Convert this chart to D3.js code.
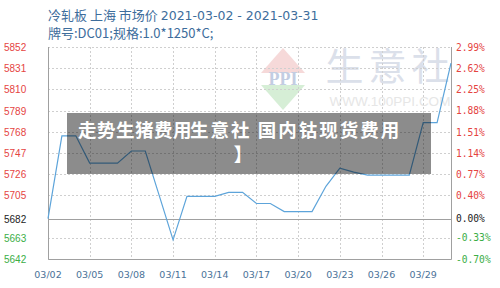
<!DOCTYPE html>
<html><head><meta charset="utf-8">
<script src="https://cdn.jsdelivr.net/npm/d3@7"></script>
<style>body{margin:0;background:#fff}svg{display:block}</style>
</head><body>
<svg id="c" width="500" height="288"></svg>
<script>
const titleLine1 = "冷轧板 上海 市场价 ";
const titleDates = "2021-03-02 - 2021-03-31";
const titleLine2 = "牌号:DC01;规格:1.0*1250*C;";
const dates = ["03/02","03/03","03/04","03/05","03/06","03/07","03/08","03/09","03/10","03/11",
  "03/12","03/13","03/14","03/15","03/16","03/17","03/18","03/19","03/20","03/21",
  "03/22","03/23","03/24","03/25","03/26","03/27","03/28","03/29","03/30","03/31"];
const prices = [5682,5764,5764,5737,5737,5737,5749,5749,5705,5661,
  5704,5704,5704,5708,5708,5697,5697,5689,5689,5689,
  5714,5732,5728,5725,5725,5725,5725,5777,5777,5836];
const xTickLabels = ["03/02","03/05","03/08","03/11","03/14","03/17","03/20","03/23","03/26","03/29"];
const leftTicks = [5852,5831,5810,5789,5768,5747,5726,5705,5682,5663,5642];
const basePrice = 5682;
const rightTicks = ["2.99%","2.62%","2.25%","1.88%","1.51%","1.14%","0.77%","0.40%","0.00%","-0.33%","-0.70%"];
const overlayTextA = "走势生猪费用";
const overlayTextB = "生意社 国内钴现货费用";
const overlayTextC = "】";

const svg = d3.select("#c");
const L = 48, R = 451, T = 47, B = 259;
const x = d3.scalePoint().domain(dates).range([L, R]);
const y = d3.scaleLinear().domain([5642, 5852]).range([B, T]);
const yr = d3.scaleLinear().domain([-0.70, 2.99]).range([B, T]);

const red = "#e5443f", green = "#3bae46", blue = "#3d6d9c";
const colorFor = v => v > basePrice ? red : (v < basePrice ? green : "#222");

// title
const t1 = svg.append("text").attr("x", 48).attr("y", 20).attr("fill", blue)
  .attr("font-family", "Noto Sans CJK SC, sans-serif").attr("font-size", 13);
t1.append("tspan").text(titleLine1);
t1.append("tspan").attr("font-family", "DejaVu Sans, sans-serif").attr("font-size", 12.5).text(titleDates);
svg.append("text").attr("x", 48).attr("y", 38).attr("fill", blue)
  .attr("font-family", "Noto Sans CJK SC, sans-serif").attr("font-size", 13).text(titleLine2);

// watermark
const wm = svg.append("g");
const cx = 283, cy = 79;
wm.append("path").attr("d", `M${cx},${cy-31} L${cx+22},${cy-6} L${cx-22},${cy-6} Z`).attr("fill", "#f6d9d9");
wm.append("path").attr("d", `M${cx},${cy+31} L${cx+22},${cy+6} L${cx-22},${cy+6} Z`).attr("fill", "#d6eed6");
wm.append("text").attr("x", cx).attr("y", cy + 6).attr("text-anchor", "middle")
  .attr("font-family", "Liberation Serif, serif").attr("font-weight", "bold").attr("font-size", 18)
  .attr("fill", "#c3cde2").text("PPI");
wm.append("text").attr("x", 390).attr("y", 80).attr("text-anchor", "middle")
  .attr("font-family", "Noto Sans CJK SC, sans-serif").attr("font-size", 38).attr("letter-spacing", 5)
  .attr("fill", "#dbe0ea").text("生意社");
wm.append("text").attr("x", 390).attr("y", 106).attr("text-anchor", "middle")
  .attr("font-family", "Liberation Sans, sans-serif").attr("font-size", 13.5)
  .attr("fill", "#e6e6e6").text("WWW.100PPI.COM");

// grid
const grid = svg.append("g");
grid.selectAll("line.h").data(leftTicks.filter(v => v !== basePrice)).join("line")
  .attr("x1", L).attr("x2", R).attr("y1", d => Math.round(y(d)) + 0.5).attr("y2", d => Math.round(y(d)) + 0.5)
  .attr("stroke", "#cfcfcf").attr("stroke-dasharray", "2,2");
grid.selectAll("line.v").data(xTickLabels.slice(1)).join("line")
  .attr("x1", d => Math.round(x(d)) + 0.5).attr("x2", d => Math.round(x(d)) + 0.5)
  .attr("y1", T).attr("y2", B)
  .attr("stroke", "#cfcfcf").attr("stroke-dasharray", "2,2");
// base line
svg.append("line").attr("x1", L).attr("x2", R)
  .attr("y1", Math.round(y(basePrice)) + 0.5).attr("y2", Math.round(y(basePrice)) + 0.5)
  .attr("stroke", "#a0a0a0");
// border
svg.append("path").attr("d", `M${L+0.5},${T} V${B+0.5} H${R+0.5} V${T}`)
  .attr("fill", "none").attr("stroke", "#a0a0a0");

// line
svg.append("path").datum(prices)
  .attr("d", d3.line().x((d, i) => x(dates[i])).y(d => y(d)))
  .attr("fill", "none").attr("stroke", "#5da4da").attr("stroke-width", 1.2);

// axes labels
svg.append("g").selectAll("text").data(leftTicks).join("text")
  .attr("x", 4).attr("y", d => y(d) + 4)
  .attr("font-family", "Liberation Sans, Arial, sans-serif").attr("font-size", 10)
  .attr("fill", d => colorFor(d)).text(d => d);
svg.append("g").selectAll("text").data(rightTicks).join("text")
  .attr("x", 456).attr("y", d => yr(parseFloat(d)) + 3.5)
  .attr("font-family", "DejaVu Sans Mono, monospace").attr("font-size", 9.6)
  .attr("fill", d => parseFloat(d) > 0 ? red : (parseFloat(d) < 0 ? green : "#222")).text(d => d);
svg.append("g").selectAll("text").data(xTickLabels).join("text")
  .attr("x", d => x(d)).attr("y", 278).attr("text-anchor", "middle")
  .attr("font-family", "DejaVu Sans, sans-serif").attr("font-size", 9.5)
  .attr("fill", "#4a7298").text(d => d);

// overlay box
svg.append("rect").attr("x", 67).attr("y", 113).attr("width", 364).attr("height", 61)
  .attr("fill", "rgba(0,0,0,0.45)");
const ov = svg.append("g").attr("fill", "#fff").attr("font-family", "Noto Sans CJK SC, sans-serif")
  .attr("font-weight", "bold").attr("font-size", 18.5);
ov.append("text").attr("x", 78).attr("y", 137).attr("letter-spacing", 0.5).text(overlayTextA);
ov.append("text").attr("x", 190).attr("y", 137).attr("letter-spacing", 2).text(overlayTextB);
ov.append("text").attr("x", 243).attr("y", 161).attr("text-anchor", "middle").text(overlayTextC);
</script>
</body></html>
